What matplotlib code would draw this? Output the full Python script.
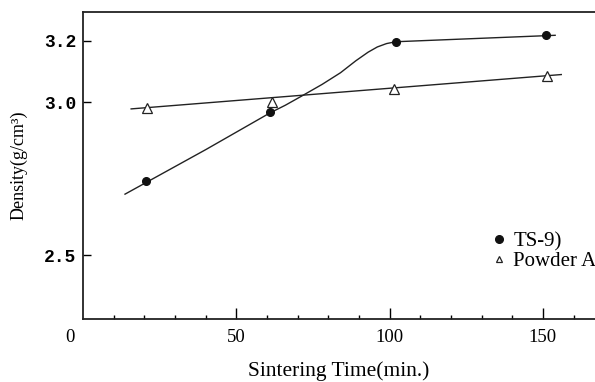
import matplotlib
matplotlib.use('Agg')
import matplotlib.pyplot as plt
from matplotlib.lines import Line2D

# measured points
time_ts9 = [20.5, 61, 102, 151]
dens_ts9 = [2.742, 2.967, 3.197, 3.218]
time_powder = [21, 61.5, 101.5, 151.5]
dens_powder = [2.980, 3.000, 3.043, 3.086]

# hand-drawn trend curves
curve_ts9_x = [13.7, 40, 61, 66, 71, 78, 84, 89, 93, 96, 99, 102, 154]
curve_ts9_y = [2.700, 2.845, 2.965, 2.990, 3.018, 3.058, 3.096, 3.135, 3.163, 3.180, 3.191, 3.197, 3.218]
curve_powder_x = [15.7, 156]
curve_powder_y = [2.978, 3.090]

serif = 'Liberation Serif'
mono = 'Liberation Mono'

fig = plt.figure(figsize=(5.95, 3.82), dpi=100)
ax = fig.add_axes([0.1395, 0.165, 0.8605, 0.8036])

ax.plot(curve_ts9_x, curve_ts9_y, color='#222222', lw=1.0)
ax.plot(curve_powder_x, curve_powder_y, color='#222222', lw=1.0)
ax.plot(time_ts9, dens_ts9, 'o', color='#111111', ms=5.5, ls='none')
ax.plot(time_powder, dens_powder, '^', mfc='white', mec='#222222', mew=0.9,
        ms=6.5, ls='none')

ax.set_xlim(0, 167)
ax.set_ylim(2.293, 3.294)

ax.spines['right'].set_visible(False)
for s in ('left', 'bottom', 'top'):
    ax.spines[s].set_linewidth(1.3)
    ax.spines[s].set_color('#222222')

ax.set_xticks([50, 100, 150])
ax.set_xticks(range(10, 170, 10), minor=True)
ax.set_xticklabels(['50', '100', '150'], fontfamily=serif, fontsize=13.5)
ax.set_yticks([2.5, 3.0, 3.2])
ax.set_yticklabels(['2.5', '3.0', '3.2'], fontfamily=mono, fontsize=13,
                   fontweight='bold')
ax.tick_params(axis='x', which='major', direction='in', length=8, width=1,
               pad=7)
ax.tick_params(axis='x', which='minor', direction='in', length=3, width=1)
ax.tick_params(axis='y', direction='in', length=6, width=1, pad=5)
ax.text(-0.025, -0.032, '0', transform=ax.transAxes, ha='center', va='top',
        fontfamily=serif, fontsize=13.5)

ax.set_xlabel('Sintering Time(min.)', fontfamily=serif, fontsize=15.5,
              labelpad=11)
ax.set_ylabel('Density(g/cm³)', fontfamily=serif, fontsize=13, labelpad=12)

handles = [
    Line2D([], [], marker='o', color='#111111', ls='none', ms=5.5),
    Line2D([], [], marker='^', mfc='white', mec='#222222', mew=0.9,
           ls='none', ms=5),
]
ax.legend(handles, ['TS-9)', 'Powder A'], loc='upper left',
          bbox_to_anchor=(0.775, 0.31), frameon=False,
          prop={'family': serif, 'size': 15}, handletextpad=0.2,
          handlelength=1.0, labelspacing=0.0, borderaxespad=0)

fig.savefig('out.png', dpi=100)
